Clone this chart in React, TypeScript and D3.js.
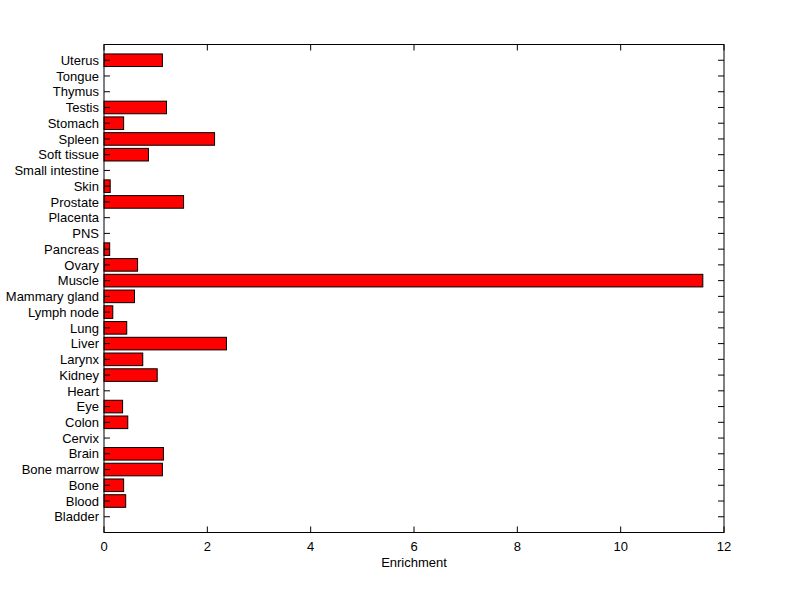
import React from "react";
import * as d3 from "d3";

const categories = [
  "Bladder", "Blood", "Bone", "Bone marrow", "Brain", "Cervix", "Colon", "Eye", "Heart", "Kidney",
  "Larynx", "Liver", "Lung", "Lymph node", "Mammary gland", "Muscle", "Ovary", "Pancreas", "PNS", "Placenta",
  "Prostate", "Skin", "Small intestine", "Soft tissue", "Spleen", "Stomach", "Testis", "Thymus", "Tongue", "Uterus",
];
const values = [
  0, 0.42, 0.38, 1.13, 1.15, 0, 0.46, 0.36, 0, 1.03,
  0.75, 2.37, 0.44, 0.17, 0.59, 11.59, 0.65, 0.11, 0, 0,
  1.54, 0.12, 0, 0.86, 2.14, 0.38, 1.21, 0, 0, 1.13,
];
const xTicks = [0, 2, 4, 6, 8, 10, 12];
const xLabel = "Enrichment";

export default function App() {
  const W = 800, H = 599;
  const left = 104, right = 724, top = 44.5, bottom = 532.5;
  const x = d3.scaleLinear().domain([0, 12]).range([left, right]);
  const y = d3.scaleLinear().domain([0, categories.length + 1]).range([bottom, top]);
  const barH = Math.abs(y(0.8) - y(0));
  const tick = 6;
  const font = "Arial, 'Liberation Sans', sans-serif";
  return (
    <svg width={W} height={H} style={{ position: "absolute", left: 0, top: 0, background: "#fff" }}
      fontFamily={font} fontSize={13}>
      <rect x={0} y={0} width={W} height={H} fill="#fff" />
      {categories.map((c, i) => (
        values[i] > 0 ? (
          <rect key={c} x={x(0)} y={y(i + 1) - barH / 2} width={x(values[i]) - x(0)} height={barH}
            fill="#ff0000" stroke="#000" strokeWidth={1} />
        ) : null
      ))}
      <rect x={left} y={top} width={right - left} height={bottom - top} fill="none" stroke="#000" strokeWidth={1} />
      {categories.map((c, i) => (
        <g key={"t" + c}>
          <line x1={left} x2={left + tick} y1={y(i + 1)} y2={y(i + 1)} stroke="#000" />
          <line x1={right} x2={right - tick} y1={y(i + 1)} y2={y(i + 1)} stroke="#000" />
          <text x={left - 5} y={y(i + 1)} dy="0.36em" textAnchor="end" fill="#000">{c}</text>
        </g>
      ))}
      {xTicks.map((t) => (
        <g key={"x" + t}>
          <line x1={x(t)} x2={x(t)} y1={bottom} y2={bottom - tick} stroke="#000" />
          <line x1={x(t)} x2={x(t)} y1={top} y2={top + tick} stroke="#000" />
          <text x={x(t)} y={551} textAnchor="middle" fill="#000">{t}</text>
        </g>
      ))}
      <text x={(left + right) / 2} y={567} textAnchor="middle" fill="#000">{xLabel}</text>
    </svg>
  );
}
